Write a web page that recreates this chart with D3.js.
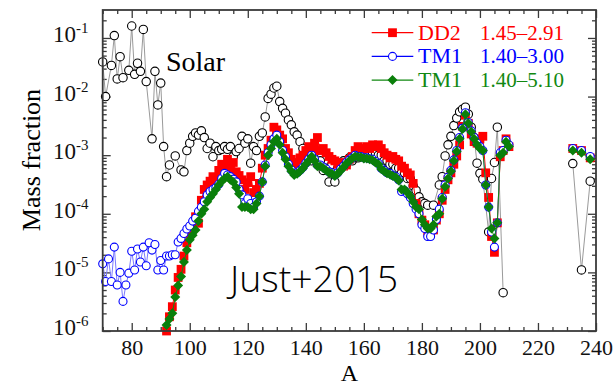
<!DOCTYPE html>
<html>
<head>
<meta charset="utf-8">
<script src="https://cdn.jsdelivr.net/npm/d3@7"></script>
<style>
  body { margin: 0; background: #fff; }
  svg { display: block; }
</style>
</head>
<body>
<svg id="chart" width="614" height="386"></svg>
<script>
// --- DATA ---
const xTicks = [80, 100, 120, 140, 160, 180, 200, 220, 240];
const decades = [-6, -5, -4, -3, -2, -1];

// solar r-abundance, [A, mass fraction]
const solar = [
  [70, 3.9e-2], [71, 1.0e-2], [73, 3.4e-2], [74, 1.1e-1], [75, 2.0e-2], [76, 4.8e-2],
  [77, 2.1e-2], [79, 2.8e-2], [80, 1.6e-1], [81, 2.4e-2], [82, 3.7e-2], [83, 2.7e-2],
  [84, 1.4e-1], [85, 1.8e-2], [87, 1.9e-3], [88, 2.7e-2], [89, 7.2e-3], [90, 1.7e-2],
  [91, 1.4e-3], [92, 4.3e-4], [93, 6.8e-4], [95, 9.7e-4], [97, 5.6e-4], [98, 5.2e-4],
  [99, 1.2e-3], [100, 1.6e-3], [101, 2.1e-3], [102, 2.4e-3], [103, 2.2e-3], [104, 2.6e-3],
  [105, 2.0e-3], [106, 1.3e-3], [107, 1.6e-3], [108, 9.4e-4], [109, 1.4e-3], [110, 1.2e-3],
  [111, 1.26e-3], [112, 1.4e-3], [113, 1.26e-3], [114, 1.4e-3], [115, 9.4e-4], [116, 1.15e-3],
  [117, 1.3e-3], [118, 2.1e-3], [119, 1.6e-3], [120, 1.9e-3], [121, 7.3e-4], [122, 1.4e-3],
  [123, 1.2e-3], [124, 2.1e-3], [125, 2.4e-3], [126, 4.5e-3], [127, 9.3e-3], [128, 1.1e-2],
  [129, 1.4e-2], [130, 1.5e-2], [131, 8.2e-3], [132, 6.3e-3], [133, 5.2e-3], [134, 4.0e-3],
  [135, 3.3e-3], [136, 2.5e-3], [137, 2.2e-3], [138, 1.7e-3], [139, 1.3e-3], [140, 1.0e-3],
  [141, 1.2e-3], [142, 8.0e-4], [143, 1.1e-3], [144, 7.0e-4], [145, 8.0e-4], [146, 5.5e-4],
  [147, 6.0e-4], [148, 3.5e-4], [149, 7.0e-4], [150, 3.5e-4], [151, 6.0e-4], [152, 7.0e-4],
  [153, 8.0e-4], [154, 7.0e-4], [155, 9.0e-4], [156, 8.0e-4], [157, 9.0e-4], [158, 9.0e-4],
  [159, 1.0e-3], [160, 1.0e-3], [161, 1.1e-3], [162, 1.0e-3], [163, 1.1e-3], [164, 1.1e-3],
  [165, 1.0e-3], [166, 1.0e-3], [167, 8.0e-4], [168, 8.0e-4], [169, 7.0e-4], [170, 7.0e-4],
  [171, 6.0e-4], [172, 6.0e-4], [173, 5.0e-4], [174, 5.0e-4], [175, 4.0e-4], [176, 4.0e-4],
  [177, 3.0e-4], [178, 2.5e-4], [179, 1.95e-4], [180, 1.6e-4], [181, 1.5e-4], [182, 1.4e-4],
  [184, 1.4e-4], [186, 3.1e-4], [187, 4.3e-4], [188, 9.7e-4], [189, 1.5e-3], [190, 2.1e-3],
  [191, 3.2e-3], [192, 4.3e-3], [193, 5.5e-3], [194, 6.1e-3], [195, 6.6e-3], [196, 5.0e-3],
  [197, 3.0e-3], [198, 2.0e-3], [199, 7.3e-4], [200, 4.9e-4], [201, 3.9e-4], [203, 4.9e-5],
  [204, 4.0e-4], [205, 7.5e-4], [206, 3.0e-3], [208, 4.5e-6],
  [232, 7.2e-4], [235, 1.1e-5], [238, 3.6e-4]
];

// DD2 1.45-2.91
const dd2 = [
  [92, 1.0e-6], [93, 1.75e-6], [94, 2.6e-6], [95, 5.0e-6], [96, 8.2e-6], [97, 1.13e-5],
  [98, 1.9e-5], [99, 3.2e-5], [100, 4.6e-5], [101, 5.5e-5], [102, 8.9e-5], [103, 6.9e-5],
  [104, 1.7e-4], [105, 2.6e-4], [106, 3.1e-4], [107, 3.6e-4], [108, 4.3e-4], [109, 4.0e-4],
  [110, 5.5e-4], [111, 7.0e-4], [112, 6.5e-4], [113, 8.5e-4], [114, 6.0e-4], [115, 7.5e-4],
  [116, 5.2e-4], [117, 4.5e-4], [118, 3.8e-4], [119, 2.6e-4], [120, 3.4e-4], [121, 4.3e-4],
  [122, 2.3e-4], [123, 2.6e-4], [124, 3.3e-4], [125, 6.0e-4], [126, 1.0e-3], [127, 1.3e-3],
  [128, 1.8e-3], [129, 3.0e-3], [130, 2.7e-3], [131, 2.2e-3], [132, 1.9e-3], [133, 1.3e-3],
  [134, 1.1e-3], [135, 8.5e-4], [136, 7.0e-4], [137, 7.5e-4], [138, 9.0e-4], [139, 1.0e-3],
  [140, 1.2e-3], [141, 1.4e-3], [142, 1.2e-3], [143, 1.6e-3], [144, 2.0e-3], [145, 1.2e-3],
  [146, 1.3e-3], [147, 1.1e-3], [148, 9.5e-4], [149, 8.5e-4], [150, 8.0e-4], [151, 7.0e-4],
  [152, 7.5e-4], [153, 6.5e-4], [154, 6.8e-4], [155, 8.5e-4], [156, 9.5e-4], [157, 1.2e-3],
  [158, 1.4e-3], [159, 1.2e-3], [160, 1.3e-3], [161, 1.4e-3], [162, 1.3e-3], [163, 1.5e-3],
  [164, 1.4e-3], [165, 1.5e-3], [166, 1.3e-3], [167, 1.1e-3], [168, 1.0e-3], [169, 9.0e-4],
  [170, 9.5e-4], [171, 8.5e-4], [172, 8.0e-4], [173, 6.5e-4], [174, 6.0e-4], [175, 5.0e-4],
  [176, 4.6e-4], [177, 3.3e-4], [178, 1.5e-4], [179, 1.0e-4], [180, 7.8e-5], [181, 6.5e-5],
  [182, 5.0e-5], [183, 4.6e-5], [184, 5.3e-5], [185, 7.8e-5], [186, 1.0e-4], [187, 1.7e-4],
  [188, 2.6e-4], [189, 3.8e-4], [190, 5.0e-4], [191, 7.0e-4], [192, 9.7e-4], [193, 1.5e-3],
  [194, 3.1e-3], [195, 4.8e-3], [196, 3.5e-3], [197, 2.3e-3], [198, 1.7e-3], [199, 1.6e-3],
  [200, 1.9e-3], [201, 2.1e-3], [202, 5.0e-4], [203, 1.9e-4], [204, 4.1e-5], [205, 2.2e-5],
  [206, 7.0e-5], [207, 9.4e-4], [208, 1.2e-3], [209, 1.9e-3], [210, 1.4e-3],
  [232, 1.3e-3], [235, 1.2e-3], [238, 9.0e-4]
];

// TM1 1.40-3.00
const tm1a = [
  [70, 1.4e-5], [71, 7.0e-6], [72, 1.7e-5], [73, 7.0e-6], [74, 2.7e-5], [75, 6.1e-6],
  [76, 1.0e-5], [77, 3.2e-6], [78, 6.1e-6], [79, 9.7e-6], [80, 2.3e-5], [81, 1.1e-5],
  [82, 2.5e-5], [83, 1.5e-5], [84, 2.7e-5], [85, 1.3e-5], [86, 3.2e-5], [87, 2.4e-5],
  [88, 3.0e-5], [89, 1.1e-5], [90, 1.6e-5], [91, 1.1e-5], [92, 1.9e-5], [93, 1.9e-5],
  [94, 2.0e-5], [95, 2.0e-5], [96, 3.3e-5], [97, 3.8e-5], [98, 4.6e-5], [99, 5.5e-5],
  [100, 6.2e-5], [101, 7.5e-5], [102, 8.4e-5], [103, 1.1e-4], [104, 1.3e-4], [105, 1.6e-4],
  [106, 2.1e-4], [107, 2.4e-4], [108, 2.6e-4], [109, 2.8e-4], [110, 3.2e-4], [111, 4.0e-4],
  [112, 4.9e-4], [113, 4.6e-4], [114, 4.3e-4], [115, 3.9e-4], [116, 3.5e-4], [117, 2.6e-4],
  [118, 2.1e-4], [119, 1.5e-4], [120, 1.8e-4], [121, 1.5e-4], [122, 1.3e-4], [123, 1.6e-4],
  [124, 2.0e-4], [125, 3.5e-4], [126, 6.8e-4], [127, 1.1e-3], [128, 1.5e-3], [129, 1.9e-3],
  [130, 2.2e-3], [131, 1.7e-3], [132, 1.2e-3], [133, 9.4e-4], [134, 7.0e-4], [135, 5.6e-4],
  [136, 4.9e-4], [137, 5.0e-4], [138, 5.5e-4], [139, 6.2e-4], [140, 7.3e-4], [141, 8.5e-4],
  [142, 1.0e-3], [143, 8.5e-4], [144, 6.8e-4], [145, 6.8e-4], [146, 6.3e-4], [147, 5.8e-4],
  [148, 5.2e-4], [149, 5.0e-4], [150, 4.6e-4], [151, 5.0e-4], [152, 5.8e-4], [153, 6.5e-4],
  [154, 7.5e-4], [155, 8.3e-4], [156, 9.0e-4], [157, 1.0e-3], [158, 9.5e-4], [159, 9.5e-4],
  [160, 9.0e-4], [161, 9.0e-4], [162, 8.7e-4], [163, 8.5e-4], [164, 7.8e-4], [165, 7.2e-4],
  [166, 6.0e-4], [167, 5.5e-4], [168, 5.0e-4], [169, 4.9e-4], [170, 4.5e-4], [171, 4.3e-4],
  [172, 3.8e-4], [173, 2.4e-4], [174, 2.5e-4], [175, 2.2e-4], [176, 1.9e-4], [177, 1.5e-4],
  [178, 1.2e-4], [179, 1.0e-4], [180, 6.5e-5], [181, 5.6e-5], [182, 4.1e-5], [183, 4.1e-5],
  [184, 5.3e-5], [185, 8.0e-5], [186, 1.2e-4], [187, 1.9e-4], [188, 3.1e-4], [189, 4.2e-4],
  [190, 5.5e-4], [191, 8.3e-4], [192, 1.2e-3], [193, 2.0e-3], [194, 2.9e-3], [195, 5.3e-3],
  [196, 3.6e-3], [197, 2.6e-3], [198, 2.0e-3], [199, 1.6e-3], [200, 1.4e-3], [201, 1.2e-3],
  [202, 3.1e-4], [203, 1.3e-4], [204, 4.9e-5], [205, 2.7e-5], [206, 7.0e-5], [207, 1.1e-3],
  [208, 1.2e-3], [209, 1.8e-3], [210, 1.5e-3],
  [232, 1.3e-3], [235, 1.2e-3], [238, 9.5e-4]
];

// TM1 1.40-5.10
const tm1b = [
  [92, 1.26e-6], [93, 1.6e-6], [94, 2.0e-6], [95, 3.8e-6], [96, 6.0e-6], [97, 8.5e-6],
  [98, 1.5e-5], [99, 2.4e-5], [100, 3.6e-5], [101, 4.3e-5], [102, 5.3e-5], [103, 7.5e-5],
  [104, 1.0e-4], [105, 1.2e-4], [106, 1.6e-4], [107, 1.9e-4], [108, 2.2e-4], [109, 2.6e-4],
  [110, 3.1e-4], [111, 3.6e-4], [112, 4.0e-4], [113, 4.3e-4], [114, 3.8e-4], [115, 3.5e-4],
  [116, 2.8e-4], [117, 2.2e-4], [118, 1.3e-4], [119, 1.3e-4], [120, 1.3e-4], [121, 1.2e-4],
  [122, 1.2e-4], [123, 1.5e-4], [124, 2.0e-4], [125, 3.5e-4], [126, 6.5e-4], [127, 1.0e-3],
  [128, 1.3e-3], [129, 1.7e-3], [130, 1.9e-3], [131, 1.5e-3], [132, 1.1e-3], [133, 8.5e-4],
  [134, 6.5e-4], [135, 5.3e-4], [136, 4.6e-4], [137, 4.8e-4], [138, 5.3e-4], [139, 6.0e-4],
  [140, 7.0e-4], [141, 8.0e-4], [142, 9.5e-4], [143, 8.0e-4], [144, 6.5e-4], [145, 6.5e-4],
  [146, 6.0e-4], [147, 5.5e-4], [148, 5.0e-4], [149, 4.8e-4], [150, 4.4e-4], [151, 4.8e-4],
  [152, 5.5e-4], [153, 6.2e-4], [154, 7.2e-4], [155, 8.0e-4], [156, 8.8e-4], [157, 9.5e-4],
  [158, 9.3e-4], [159, 9.2e-4], [160, 8.8e-4], [161, 8.8e-4], [162, 8.5e-4], [163, 8.2e-4],
  [164, 7.5e-4], [165, 7.0e-4], [166, 5.8e-4], [167, 5.3e-4], [168, 4.9e-4], [169, 4.7e-4],
  [170, 4.4e-4], [171, 4.2e-4], [172, 3.7e-4], [173, 2.6e-4], [174, 2.6e-4], [175, 2.3e-4],
  [176, 2.0e-4], [177, 1.6e-4], [178, 1.3e-4], [179, 1.2e-4], [180, 8.0e-5], [181, 6.5e-5],
  [182, 5.6e-5], [183, 5.6e-5], [184, 6.5e-5], [185, 9.0e-5], [186, 1.0e-4], [187, 1.8e-4],
  [188, 2.9e-4], [189, 4.0e-4], [190, 5.3e-4], [191, 8.0e-4], [192, 1.15e-3], [193, 1.9e-3],
  [194, 2.8e-3], [195, 5.0e-3], [196, 3.5e-3], [197, 2.5e-3], [198, 1.9e-3], [199, 1.5e-3],
  [200, 1.3e-3], [201, 1.2e-3], [202, 3.1e-4], [203, 1.3e-4], [204, 5.6e-5], [205, 3.8e-5],
  [206, 7.0e-5], [207, 1.0e-3], [208, 1.1e-3], [209, 1.7e-3], [210, 1.4e-3],
  [232, 1.2e-3], [235, 1.1e-3], [238, 8.5e-4]
];

const legendNames = ["DD2", "TM1", "TM1"];
const legendRanges = ["1.45\u20132.91", "1.40\u20133.00", "1.40\u20135.10"];

// --- LAYOUT ---
const SERIF = "'Liberation Serif', 'Times New Roman', serif";
const svg = d3.select("#chart");
const box = { left: 102.7, right: 596, top: 10, bottom: 331 };

const x = d3.scaleLinear().domain([70, 240]).range([box.left, box.right]);
const y = d3.scaleLog().domain([1e-6, 0.3]).range([box.bottom, box.top]);

const minorX = d3.range(70, 241, 5).filter(v => v % 20 !== 0);
const majorY = decades.map(e => Math.pow(10, e));
const minorY = [];
decades.forEach(e => d3.range(2, 10).forEach(m => {
  const v = m * Math.pow(10, e);
  if (v < 0.3) minorY.push(v);
}));

const axisColor = "#3a3a3a";

// --- AXES (ticks pointing inward on all four sides) ---
const addAxis = (axis, tx, ty) => {
  const g = svg.append("g").attr("transform", `translate(${tx},${ty})`).call(axis);
  g.select(".domain").remove();
  g.selectAll("line").attr("stroke", axisColor).attr("stroke-width", 1.3);
  return g;
};

const xAxis = addAxis(d3.axisBottom(x).tickValues(xTicks).tickSize(-8).tickPadding(8.4)
  .tickFormat(d3.format("d")), 0, box.bottom);
xAxis.attr("font-family", null).attr("font-size", null);
xAxis.selectAll("text").style("font-family", SERIF).style("font-size", "22px").attr("fill", "#111");
addAxis(d3.axisBottom(x).tickValues(minorX).tickSize(-4).tickFormat(""), 0, box.bottom);
addAxis(d3.axisTop(x).tickValues(xTicks).tickSize(-8).tickFormat(""), 0, box.top);
addAxis(d3.axisTop(x).tickValues(minorX).tickSize(-4).tickFormat(""), 0, box.top);

addAxis(d3.axisLeft(y).tickValues(majorY).tickSize(-8).tickFormat(""), box.left, 0);
addAxis(d3.axisLeft(y).tickValues(minorY).tickSize(-4).tickFormat(""), box.left, 0);
addAxis(d3.axisRight(y).tickValues(majorY).tickSize(-8).tickFormat(""), box.right, 0);
addAxis(d3.axisRight(y).tickValues(minorY).tickSize(-4).tickFormat(""), box.right, 0);

// y tick labels as 10^n
const yLab = svg.append("g").style("font-family", SERIF).attr("fill", "#111");
decades.forEach(e => {
  const t = yLab.append("text")
    .attr("x", 88.5).attr("y", y(Math.pow(10, e)) + 4)
    .attr("text-anchor", "end");
  t.append("tspan").style("font-size", "23px").text("10");
  t.append("tspan").style("font-size", "15px").attr("dy", -9).text("-" + (-e));
});

svg.append("text").style("font-family", SERIF)
  .attr("x", (box.left + box.right) / 2).attr("y", 381)
  .attr("text-anchor", "middle").style("font-size", "24px").text("A");

svg.append("text").style("font-family", SERIF)
  .attr("transform", "translate(40,160) rotate(-90)")
  .attr("text-anchor", "middle").style("font-size", "26px").text("Mass fraction");

// --- SERIES ---
const plot = svg.append("g");

const lineGen = d3.line().x(d => x(d[0])).y(d => y(d[1]));
const drawLine = (data, color, width) => {
  // break the line across the gap between A~210 and A~232
  const parts = [data.filter(d => d[0] < 220), data.filter(d => d[0] > 220)];
  parts.forEach(p => plot.append("path").datum(p)
    .attr("fill", "none").attr("stroke", color).attr("stroke-width", width)
    .attr("d", lineGen));
};

const diamond = "M0,-5L5,0L0,5L-5,0Z";

// solar
drawLine(solar, "#9a9a9a", 1);
plot.append("g").selectAll("circle").data(solar).join("circle")
  .attr("cx", d => x(d[0])).attr("cy", d => y(d[1])).attr("r", 4.2)
  .attr("fill", "#fff").attr("stroke", "#000").attr("stroke-width", 1.1);

// DD2
drawLine(dd2, "#ff0000", 1);
plot.append("g").selectAll("rect").data(dd2).join("rect")
  .attr("x", d => x(d[0]) - 4.4).attr("y", d => y(d[1]) - 4.4)
  .attr("width", 8.8).attr("height", 8.8).attr("fill", "#ff0000");

// TM1 3.00
drawLine(tm1a, "#7a7aff", 1);
plot.append("g").selectAll("circle").data(tm1a).join("circle")
  .attr("cx", d => x(d[0])).attr("cy", d => y(d[1])).attr("r", 4)
  .attr("fill", "#fff").attr("stroke", "#0000ff").attr("stroke-width", 1.1);

// TM1 5.10
drawLine(tm1b, "#118811", 1);
plot.append("g").selectAll("path.dm").data(tm1b).join("path")
  .attr("class", "dm").attr("d", diamond)
  .attr("transform", d => `translate(${x(d[0])},${y(d[1])})`)
  .attr("fill", "#0a7f0a");

// frame
svg.append("rect").attr("x", box.left).attr("y", box.top)
  .attr("width", box.right - box.left).attr("height", box.bottom - box.top)
  .attr("fill", "none").attr("stroke", axisColor).attr("stroke-width", 1.8);

// --- LABELS & LEGEND ---
svg.append("text").style("font-family", SERIF).attr("x", 166).attr("y", 70.5)
  .style("font-size", "28px").text("Solar");

svg.append("text").attr("x", 230).attr("y", 292)
  .style("font-family", "'Open Sans', Lato, sans-serif").style("font-weight", 300)
  .style("font-size", "37px").attr("textLength", 168).attr("lengthAdjust", "spacingAndGlyphs")
  .text("Just+2015");

const legendColors = ["#ff0000", "#0000ff", "#118811"];
const legend = svg.append("g").style("font-family", SERIF);
legendNames.forEach((name, i) => {
  const cy = 32.7 + i * 23.7;
  legend.append("line").attr("x1", 371.7).attr("x2", 413.3).attr("y1", cy).attr("y2", cy)
    .attr("stroke", legendColors[i]).attr("stroke-width", 1.2);
  if (i === 0) {
    legend.append("rect").attr("x", 388.1).attr("y", cy - 4.4).attr("width", 8.8).attr("height", 8.8)
      .attr("fill", legendColors[0]);
  } else if (i === 1) {
    legend.append("circle").attr("cx", 392.5).attr("cy", cy).attr("r", 4)
      .attr("fill", "#fff").attr("stroke", "#0000ff").attr("stroke-width", 1.1);
  } else {
    legend.append("path").attr("d", diamond).attr("transform", `translate(392.5,${cy})`)
      .attr("fill", "#0a7f0a");
  }
  legend.append("text").attr("x", 418).attr("y", cy + 6.8).attr("fill", legendColors[i])
    .style("font-size", "22px").text(name);
  legend.append("text").attr("x", 480).attr("y", cy + 6.8).attr("fill", legendColors[i])
    .style("font-size", "21px").text(legendRanges[i]);
});
</script>
</body>
</html>
